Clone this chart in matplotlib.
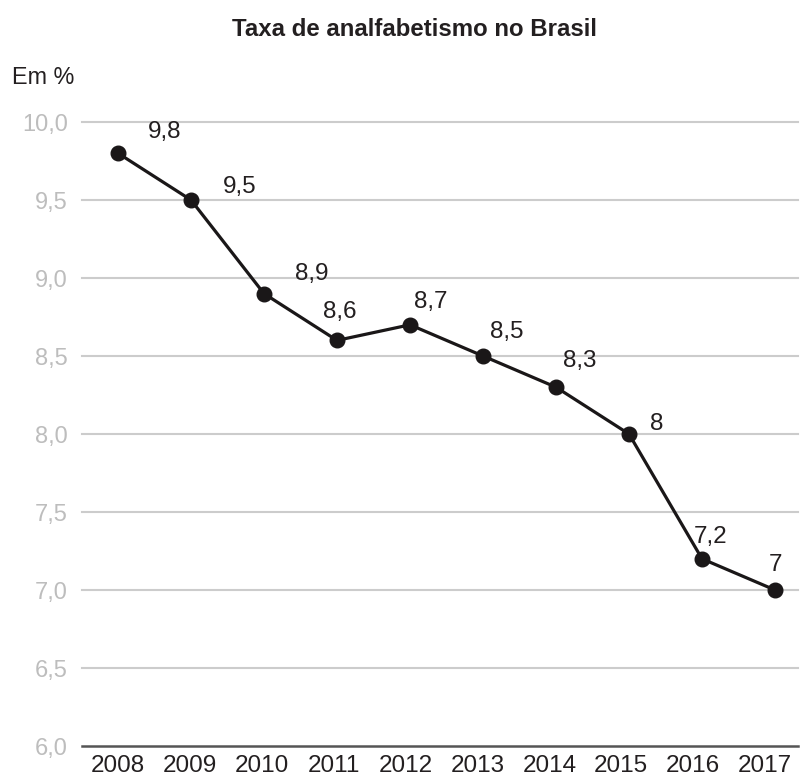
import matplotlib
matplotlib.use("Agg")
import matplotlib.pyplot as plt
import matplotlib.transforms as mtransforms

plt.rcParams['font.family'] = ['Liberation Sans', 'DejaVu Sans']

anos = ['2008', '2009', '2010', '2011', '2012', '2013', '2014', '2015', '2016', '2017']
taxa = [9.8, 9.5, 8.9, 8.6, 8.7, 8.5, 8.3, 8.0, 7.2, 7.0]
rotulos = ['9,8', '9,5', '8,9', '8,6', '8,7', '8,5', '8,3', '8', '7,2', '7']
yticks = [6.0, 6.5, 7.0, 7.5, 8.0, 8.5, 9.0, 9.5, 10.0]

# label offsets in pixels (dx, dy) relative to each point
offsets = [(47, 21), (49, 13), (48, 20), (3, 28), (21, 23), (24, 24), (24, 26), (28, 10), (9, 22), (0, 25)]

W, H = 802, 783
fig = plt.figure(figsize=(W / 100, H / 100), dpi=100)
left, right, bottom, top = 82, 798, 746, 122
ax = fig.add_axes([left / W, 1 - bottom / H, (right - left) / W, (bottom - top) / H])

x = list(range(len(anos)))
ax.plot(x, taxa, color='#1a1718', lw=2.3, marker='o', ms=10.5, zorder=3, clip_on=False)

for xi, yi, lab, (dx, dy) in zip(x, taxa, rotulos, offsets):
    ax.annotate(lab, (xi, yi), xytext=(dx, dy), textcoords='offset pixels',
                ha='center', va='center', fontsize=17.5, color='#231f20',
                annotation_clip=False)

ax.set_xlim(-0.493, 9.315)
ax.set_ylim(6.0, 10.0)
ax.set_yticks(yticks)
ax.set_yticklabels([f'{v:.1f}'.replace('.', ',') for v in yticks], color='#bdbdbd', fontsize=17)
ax.set_xticks(x)
ax.set_xticklabels(anos, fontsize=17.5, color='#231f20')
ax.tick_params(axis='both', length=0)
ax.tick_params(axis='y', pad=10)
ax.tick_params(axis='x', pad=6.5)

# year labels sit on a slightly tighter spacing than the points
for i, lbl in enumerate(ax.get_xticklabels()):
    shift = mtransforms.ScaledTranslation(-1.1 * i / 100, 0, fig.dpi_scale_trans)
    lbl.set_transform(lbl.get_transform() + shift)

for v in yticks[1:]:
    ax.axhline(v, color='#cccccc', lw=1.5, zorder=1, clip_on=False)

for s in ['top', 'right', 'left']:
    ax.spines[s].set_visible(False)
ax.spines['bottom'].set_color('#555555')
ax.spines['bottom'].set_linewidth(1.8)

fig.text(414 / W, 1 - 29 / H, 'Taxa de analfabetismo no Brasil', ha='center', va='center',
         fontsize=17.3, fontweight='bold', color='#231f20')
fig.text(12 / W, 1 - 77 / H, 'Em %', ha='left', va='center', fontsize=16.8, color='#231f20')

fig.savefig('out.png', dpi=100)
